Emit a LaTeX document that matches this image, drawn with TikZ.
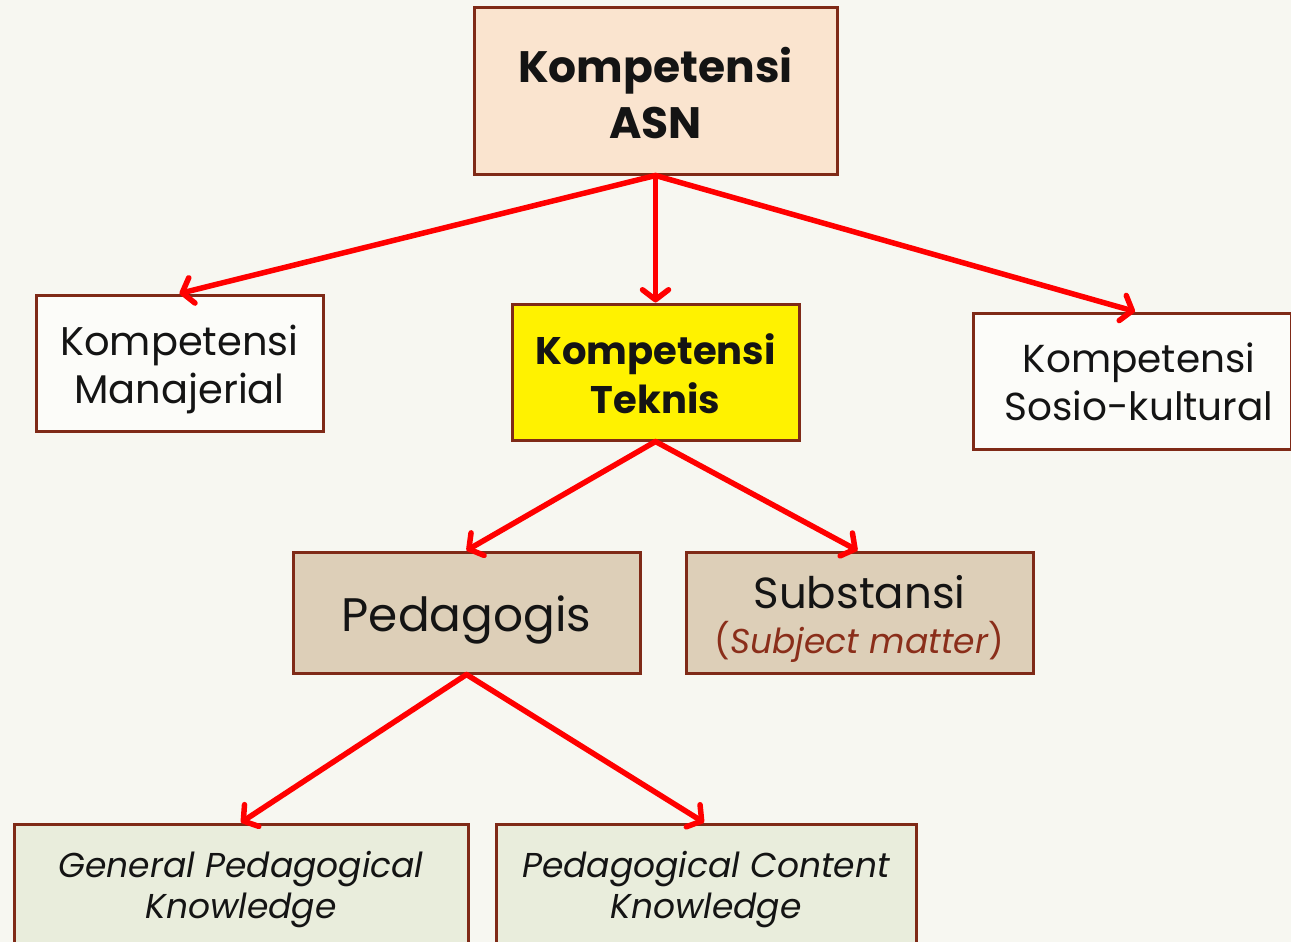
\documentclass[tikz,border=0pt]{standalone}
\usepackage{fontspec}
\setmainfont{Poppins}
\usetikzlibrary{arrows.meta}
\definecolor{bg}{HTML}{F7F7F1}
\definecolor{brd}{HTML}{7F2A17}
\definecolor{peach}{HTML}{FAE4CF}
\definecolor{tan}{HTML}{DDCFB8}
\definecolor{sage}{HTML}{E9EDDC}
\definecolor{txt}{HTML}{141414}
\definecolor{subj}{HTML}{8A2E1A}
\newcommand\hstrut[1]{\rule{0pt}{#1pt}}
\newcommand\dstrut[1]{\rule[-#1pt]{0pt}{0pt}}
\tikzset{
  box/.style={draw=brd, line width=3pt, rectangle, align=center, text=txt, inner sep=0pt},
  conn/.style={draw=red, line width=5.5pt, line cap=round, line join=round,
    -{Straight Barb[length=10pt, width=26pt, round]}},
}
\begin{document}
\begin{tikzpicture}[x=1pt, y=-1pt]
\clip (0,0) rectangle (1291,942);
\fill[bg] (0,0) rectangle (1291,942);
\node[box, fill=peach, minimum width=363pt, minimum height=166pt, font=\fontsize{44}{56}\selectfont\bfseries] (asn) at (655.5,91) {\hstrut{60}Kompetensi\\ASN\dstrut{22}};
\node[box, fill=white!60!bg, minimum width=287pt, minimum height=136pt, font=\fontsize{40}{48}\selectfont] (man) at (179.5,363) {\hstrut{50}Kompetensi\\Manajerial\dstrut{18}};
\node[box, fill=yellow, minimum width=287pt, minimum height=136pt, font=\fontsize{38.5}{49}\selectfont\bfseries] (tek) at (655.5,372) {\hstrut{50}Kompetensi\\Teknis\dstrut{17}};
\node[box, fill=white!60!bg, minimum width=318pt, minimum height=136pt, font=\fontsize{39}{48}\selectfont] (sos) at (1132,381) {\hspace*{14pt}\hstrut{50}Kompetensi\\\hspace*{14pt}Sosio-kultural\dstrut{20}};
\node[box, fill=tan, minimum width=347pt, minimum height=121pt, font=\fontsize{47}{54}\selectfont] (ped) at (466.5,612.5) {\hstrut{60}Pedagogis\dstrut{23}};
\node[box, fill=tan, minimum width=347pt, minimum height=121pt, font=\fontsize{43.5}{45}\selectfont] (sub) at (859.5,612.5) {\hstrut{48}Substansi\\{\fontsize{34.5}{45}\selectfont\color{subj}(\textit{Subject matter})}\dstrut{12}};
\node[box, fill=sage, minimum width=454pt, minimum height=124pt, font=\fontsize{34.5}{41}\selectfont\itshape] (gpk) at (241,886) {\hstrut{40}General Pedagogical\\Knowledge\dstrut{17}};
\node[box, fill=sage, minimum width=420pt, minimum height=124pt, font=\fontsize{34.5}{41}\selectfont\itshape] (pck) at (706,886) {\hstrut{40}Pedagogical Content\\Knowledge\dstrut{17}};
\draw[conn] (asn.south) -- (man.north);
\draw[conn] (asn.south) -- (tek.north);
\draw[conn] (asn.south) -- ([xshift=3pt]sos.north);
\draw[conn] (tek.south) -- (ped.north);
\draw[conn] (tek.south) -- ([xshift=-2pt]sub.north);
\draw[conn] (ped.south) -- (gpk.north);
\draw[conn] (ped.south) -- ([xshift=-2pt]pck.north);
\end{tikzpicture}
\end{document}
